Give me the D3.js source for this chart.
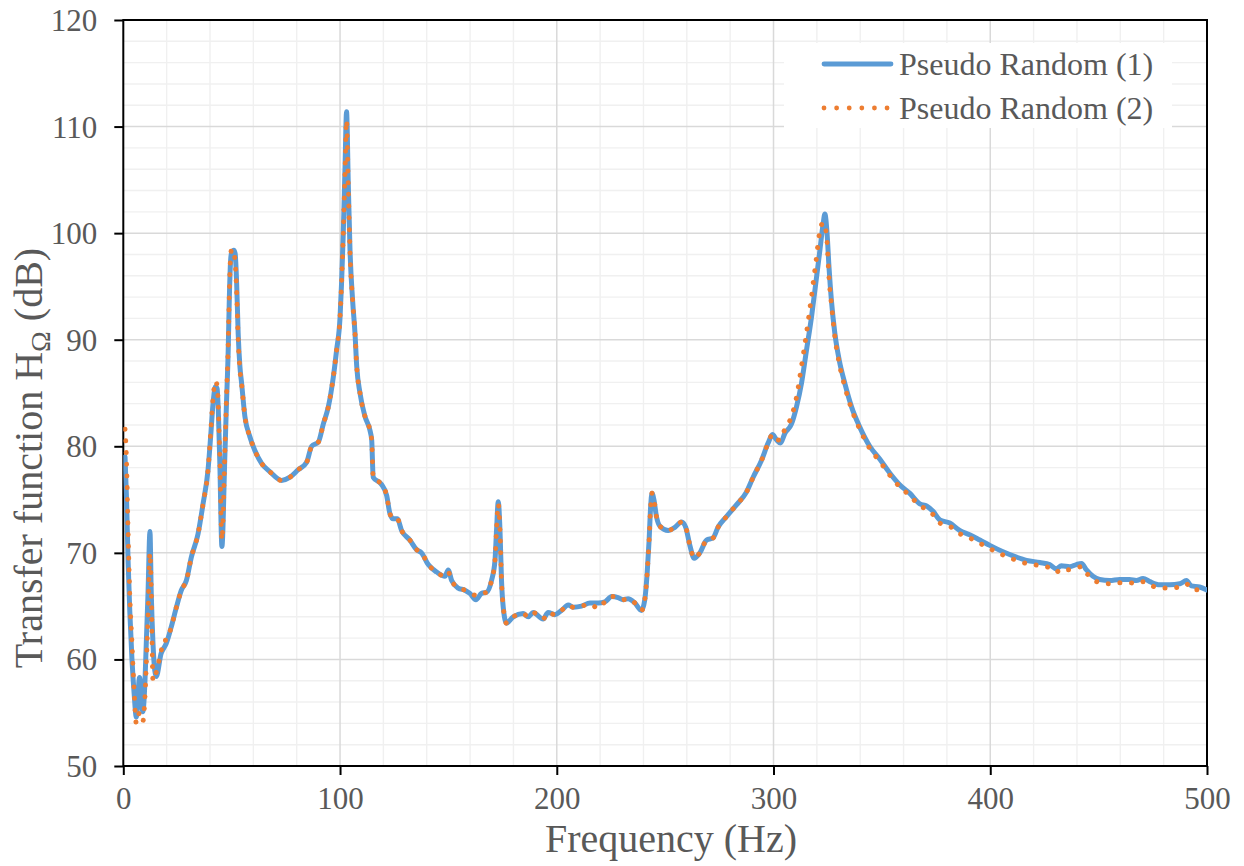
<!DOCTYPE html>
<html>
<head>
<meta charset="utf-8">
<script src="https://cdn.jsdelivr.net/npm/d3@7"></script>
<style>
  html, body { margin: 0; padding: 0; background: #ffffff; }
  svg { display: block; }
  text { font-family: "Liberation Serif", "Times New Roman", serif; fill: #595959; }
</style>
</head>
<body>
<svg id="chart" width="1244" height="866"></svg>
<script>
// Frequency grid (Hz) shared by both measurements
const freqHz = [
  0.8, 1.5, 2.2, 3.0, 4.0, 5.0, 6.0, 7.5, 9.0, 10.0, 10.6, 11.4, 12.3, 12.9, 13.7, 14.5, 15.2, 17.5, 18.5, 19.8,
  22.2, 24.5, 26.8, 29.1, 31.4, 34.5, 36.8, 39.1, 40.3, 41.4, 42.5, 43.3, 44.5, 45.5, 46.8, 47.6,
  48.4, 48.9, 49.5, 50.0, 51.0, 51.6, 52.3, 53.0, 53.8, 54.6, 56.1, 58.4, 60.7, 63.8, 67.7, 73.0,
  76.9, 80.7, 84.6, 86.9, 90.0, 92.3, 94.6, 96.9, 98.4, 100.0, 100.7, 101.5, 102.3, 103.0, 103.8,
  104.6, 105.8, 106.9, 107.7, 109.2, 111.5, 113.8, 114.6, 115.3, 119.2, 121.5, 123.0, 124.5, 126.4,
  128.4, 132.2, 135.3, 137.6, 140.7, 144.6, 148.4, 149.9, 151.5, 154.5, 157.6, 159.9, 162.7, 165.3,
  167.6, 169.9, 171.5, 172.2, 173.0, 173.8, 174.5, 175.3, 176.8, 179.9, 184.5, 186.8, 189.1, 193.7,
  196.0, 199.1, 202.2, 205.3, 207.6, 211.4, 215.3, 219.1, 222.2, 225.3, 228.3, 230.6, 232.9, 236.0,
  239.1, 240.6, 241.7, 242.6, 243.3, 243.9, 244.8, 246.0, 247.6, 251.4, 254.5, 257.6, 259.5, 261.4,
  263.4, 266.0, 269.1, 272.1, 274.4, 278.3, 282.9, 287.5, 290.6, 294.5, 297.5, 299.5, 301.4, 303.2,
  305.2, 308.3, 310.6, 312.9, 315.2, 317.5, 319.5, 321.4, 322.9, 323.7, 324.7, 325.6, 326.7, 328.3,
  330.3, 332.9, 336.0, 339.8, 344.4, 349.0, 353.6, 358.2, 362.8, 367.5, 370.6, 373.6, 376.7, 381.3,
  385.9, 390.5, 395.2, 399.8, 405.9, 412.1, 416.7, 422.8, 427.4, 430.5, 432.8, 436.7, 439.7, 442.1,
  444.4, 447.4, 450.5, 455.1, 459.7, 464.3, 467.4, 470.5, 473.6, 478.2, 482.8, 487.5, 490.5, 492.8,
  496.6, 500.0
];

// Transfer function H_Omega (dB), first pseudo-random excitation run
const pseudoRandom1 = [
  79.0, 75.0, 69.3, 64.5, 60.0, 56.8, 54.6, 58.3, 55.1, 58.0, 61.5, 66.2, 72.0, 66.2, 61.5, 59.0, 58.4, 60.6, 61.0, 61.5,
  63.1, 64.9, 66.5, 67.4, 69.6, 71.8, 74.6, 77.8, 80.9, 84.0, 85.6, 85.4, 78.7, 70.6, 78.7, 84.0,
  89.0, 93.7, 97.4, 98.2, 98.4, 98.1, 95.3, 90.6, 87.5, 85.9, 82.8, 80.9, 79.6, 78.4, 77.6, 76.8,
  77.1, 77.8, 78.5, 80.0, 80.4, 82.1, 83.7, 86.5, 89.0, 92.1, 95.3, 100.0, 106.2, 111.4, 104.7,
  98.4, 93.7, 90.6, 87.5, 85.0, 82.8, 81.5, 80.6, 77.1, 76.4, 75.4, 73.7, 73.2, 73.2,
  72.1, 71.2, 70.3, 70.0, 68.9, 68.2, 67.8, 68.4, 67.4, 66.7, 66.5, 66.2, 65.6, 66.2,
  66.3, 67.4, 69.3, 72.1, 74.8, 72.1, 67.4, 64.9, 63.4, 64.0, 64.3, 64.0, 64.4, 63.8,
  64.4, 64.2, 64.6, 65.1, 64.9, 65.0, 65.3, 65.3, 65.4, 65.9, 65.8, 65.6, 65.7, 65.3,
  64.6, 65.6, 68.1, 71.2, 74.3, 75.6, 75.0, 73.4, 72.5, 72.1, 72.4, 72.9, 72.4, 70.7,
  69.5, 70.0, 71.2, 71.4, 72.4, 73.4, 74.5, 75.7, 77.1, 78.7, 80.3, 81.1, 80.6, 80.3,
  81.2, 82.1, 83.7, 85.9, 89.0, 92.1, 95.3, 98.4, 100.9, 101.8, 100.0, 96.8, 93.7, 90.6,
  88.1, 85.9, 83.7, 81.8, 80.0, 78.8, 77.5, 76.4, 75.6, 74.6, 74.4, 73.9, 73.1, 72.8,
  72.1, 71.7, 71.2, 70.7, 70.1, 69.6, 69.3, 69.1, 68.9, 68.5, 68.8, 68.7, 68.9, 69.0,
  68.4, 67.8, 67.5, 67.4, 67.5, 67.5, 67.4, 67.6, 67.3, 67.0, 67.0, 67.1, 67.4, 66.9,
  66.8, 66.5
];

// Transfer function H_Omega (dB), second pseudo-random excitation run
const pseudoRandom2 = [
  81.6, 78.5, 72.0, 66.0, 61.5, 57.0, 54.0, 55.0, 54.2, 56.5, 59.5, 64.0, 70.0, 66.5, 58.0, 58.2, 58.8, 60.8, 61.8, 61.8,
  63.1, 64.9, 66.5, 67.4, 69.6, 71.8, 74.6, 77.8, 81.2, 84.5, 86.1, 85.7, 79.2, 71.2, 79.0, 84.5,
  89.5, 94.2, 97.8, 98.5, 98.2, 97.3, 94.5, 90.0, 87.2, 85.8, 82.8, 80.9, 79.6, 78.4, 77.6, 76.8,
  77.1, 77.8, 78.5, 80.0, 80.4, 82.1, 83.7, 86.5, 89.0, 92.1, 95.3, 100.0, 105.8, 110.6, 104.4,
  98.2, 93.7, 90.6, 87.5, 85.0, 82.8, 81.5, 80.6, 77.1, 76.4, 75.4, 73.7, 73.2, 73.2,
  72.1, 71.2, 70.3, 70.0, 68.9, 68.2, 67.8, 68.2, 67.4, 66.7, 66.5, 66.3, 66.0, 66.2,
  66.3, 67.4, 69.3, 72.1, 74.6, 72.1, 67.4, 64.9, 63.4, 64.0, 64.3, 64.0, 64.4, 63.8,
  64.4, 64.2, 64.6, 65.1, 64.9, 65.0, 65.2, 64.8, 65.4, 65.9, 65.8, 65.6, 65.7, 65.3,
  64.6, 65.6, 68.1, 71.2, 74.3, 75.6, 75.0, 73.4, 72.5, 72.1, 72.4, 72.9, 72.4, 70.7,
  69.5, 70.0, 71.2, 71.4, 72.4, 73.4, 74.5, 75.7, 77.1, 78.7, 80.3, 81.1, 80.6, 80.6,
  81.6, 82.8, 84.6, 87.5, 90.6, 94.0, 97.2, 100.2, 101.0, 100.7, 99.2, 95.8, 93.4, 90.3,
  87.8, 85.6, 83.5, 81.6, 79.8, 78.6, 77.3, 76.2, 75.4, 74.4, 74.1, 73.6, 72.8, 72.5,
  71.8, 71.4, 70.9, 70.4, 69.8, 69.3, 69.0, 68.8, 68.6, 68.2, 68.5, 68.4, 68.6, 68.7,
  68.1, 67.5, 67.2, 67.1, 67.2, 67.2, 67.1, 67.3, 67.0, 66.7, 66.7, 66.8, 67.1, 66.6,
  66.5, 66.3
];

const xTicks = [0, 100, 200, 300, 400, 500];
const yTicks = [50, 60, 70, 80, 90, 100, 110, 120];
const seriesNames = ["Pseudo Random (1)", "Pseudo Random (2)"];

const svg = d3.select("#chart");
const plot = { left: 123.3, right: 1207, top: 20, bottom: 766 };

const x = d3.scaleLinear().domain([0, 500]).range([plot.left, plot.right]);
const y = d3.scaleLinear().domain([50, 120]).range([plot.bottom, plot.top]);

// Minor grid: every 20 Hz and every 2 dB
const grid = svg.append("g");
grid.selectAll(".vminor").data(d3.range(20, 500, 20).filter(v => v % 100 !== 0)).join("line")
  .attr("x1", d => x(d)).attr("x2", d => x(d)).attr("y1", plot.top).attr("y2", plot.bottom)
  .attr("stroke", "#f0f0f0").attr("stroke-width", 1.4);
grid.selectAll(".hminor").data(d3.range(52, 120, 2).filter(v => v % 10 !== 0)).join("line")
  .attr("x1", plot.left).attr("x2", plot.right).attr("y1", d => y(d)).attr("y2", d => y(d))
  .attr("stroke", "#f0f0f0").attr("stroke-width", 1.4);
// Major grid
grid.selectAll(".vmajor").data(xTicks.slice(1, -1)).join("line")
  .attr("x1", d => x(d)).attr("x2", d => x(d)).attr("y1", plot.top).attr("y2", plot.bottom)
  .attr("stroke", "#d9d9d9").attr("stroke-width", 1.5);
grid.selectAll(".hmajor").data(yTicks.slice(1, -1)).join("line")
  .attr("x1", plot.left).attr("x2", plot.right).attr("y1", d => y(d)).attr("y2", d => y(d))
  .attr("stroke", "#d9d9d9").attr("stroke-width", 1.5);

// Axes
const xAxis = svg.append("g").attr("transform", `translate(0,${plot.bottom})`)
  .call(d3.axisBottom(x).tickValues(xTicks).tickSize(9).tickPadding(12).tickFormat(d3.format("d")));
const yAxis = svg.append("g").attr("transform", `translate(${plot.left},0)`)
  .call(d3.axisLeft(y).tickValues(yTicks).tickSize(9).tickPadding(17).tickFormat(d3.format("d")));
[xAxis, yAxis].forEach(a => {
  a.select(".domain").remove();
  a.selectAll(".tick line").attr("stroke", "#000").attr("stroke-width", 2);
  a.selectAll(".tick text").style("font-size", "31px").attr("fill", "#595959")
    .style("font-family", "'Liberation Serif', 'Times New Roman', serif");
});
xAxis.selectAll(".tick text").attr("dy", "0.71em");
yAxis.selectAll(".tick text").attr("dy", "0.34em");

// Plot frame
svg.append("rect")
  .attr("x", plot.left).attr("y", plot.top)
  .attr("width", plot.right - plot.left).attr("height", plot.bottom - plot.top)
  .attr("fill", "none").attr("stroke", "#000").attr("stroke-width", 2);

// Curves
const line = (vals) => d3.line()
  .x((d, i) => x(freqHz[i]))
  .y(d => y(d))
  .curve(d3.curveMonotoneX)(vals);

svg.append("clipPath").attr("id", "plotClip")
  .append("rect").attr("x", plot.left).attr("y", plot.top)
  .attr("width", plot.right - plot.left).attr("height", plot.bottom - plot.top);

const curves = svg.append("g").attr("clip-path", "url(#plotClip)");
curves.append("path").attr("d", line(pseudoRandom1))
  .attr("fill", "none").attr("stroke", "#5B9BD5").attr("stroke-width", 5)
  .attr("stroke-linejoin", "round").attr("stroke-linecap", "round");
curves.append("path").attr("d", line(pseudoRandom2))
  .attr("fill", "none").attr("stroke", "#ED7D31").attr("stroke-width", 5)
  .attr("stroke-dasharray", "0.01 11.7").attr("stroke-linecap", "round");

// Legend
const legend = svg.append("g");
legend.append("rect").attr("x", 784).attr("y", 43).attr("width", 388).attr("height", 85).attr("fill", "#fff");
const legendRows = [
  { name: seriesNames[0], color: "#5B9BD5", dash: null, yc: 64 },
  { name: seriesNames[1], color: "#ED7D31", dash: "0.01 12.6", yc: 108 }
];
legendRows.forEach(r => {
  const l = legend.append("line").attr("x1", 824).attr("x2", 891).attr("y1", r.yc).attr("y2", r.yc)
    .attr("stroke", r.color).attr("stroke-width", 4.8).attr("stroke-linecap", "round");
  if (r.dash) l.attr("stroke-dasharray", r.dash);
  legend.append("text").attr("x", 899).attr("y", r.yc + 11).style("font-size", "32px").text(r.name);
});

// Axis titles
svg.append("text").attr("x", 671).attr("y", 852)
  .attr("text-anchor", "middle").style("font-size", "40px").text("Frequency (Hz)");

const yTitle = svg.append("text")
  .attr("transform", "translate(42,458) rotate(-90)")
  .attr("text-anchor", "middle").style("font-size", "40px");
yTitle.append("tspan").text("Transfer function H");
yTitle.append("tspan").attr("dy", 8).style("font-size", "28px").text("Ω");
yTitle.append("tspan").attr("dy", -8).text(" (dB)");
</script>
</body>
</html>
